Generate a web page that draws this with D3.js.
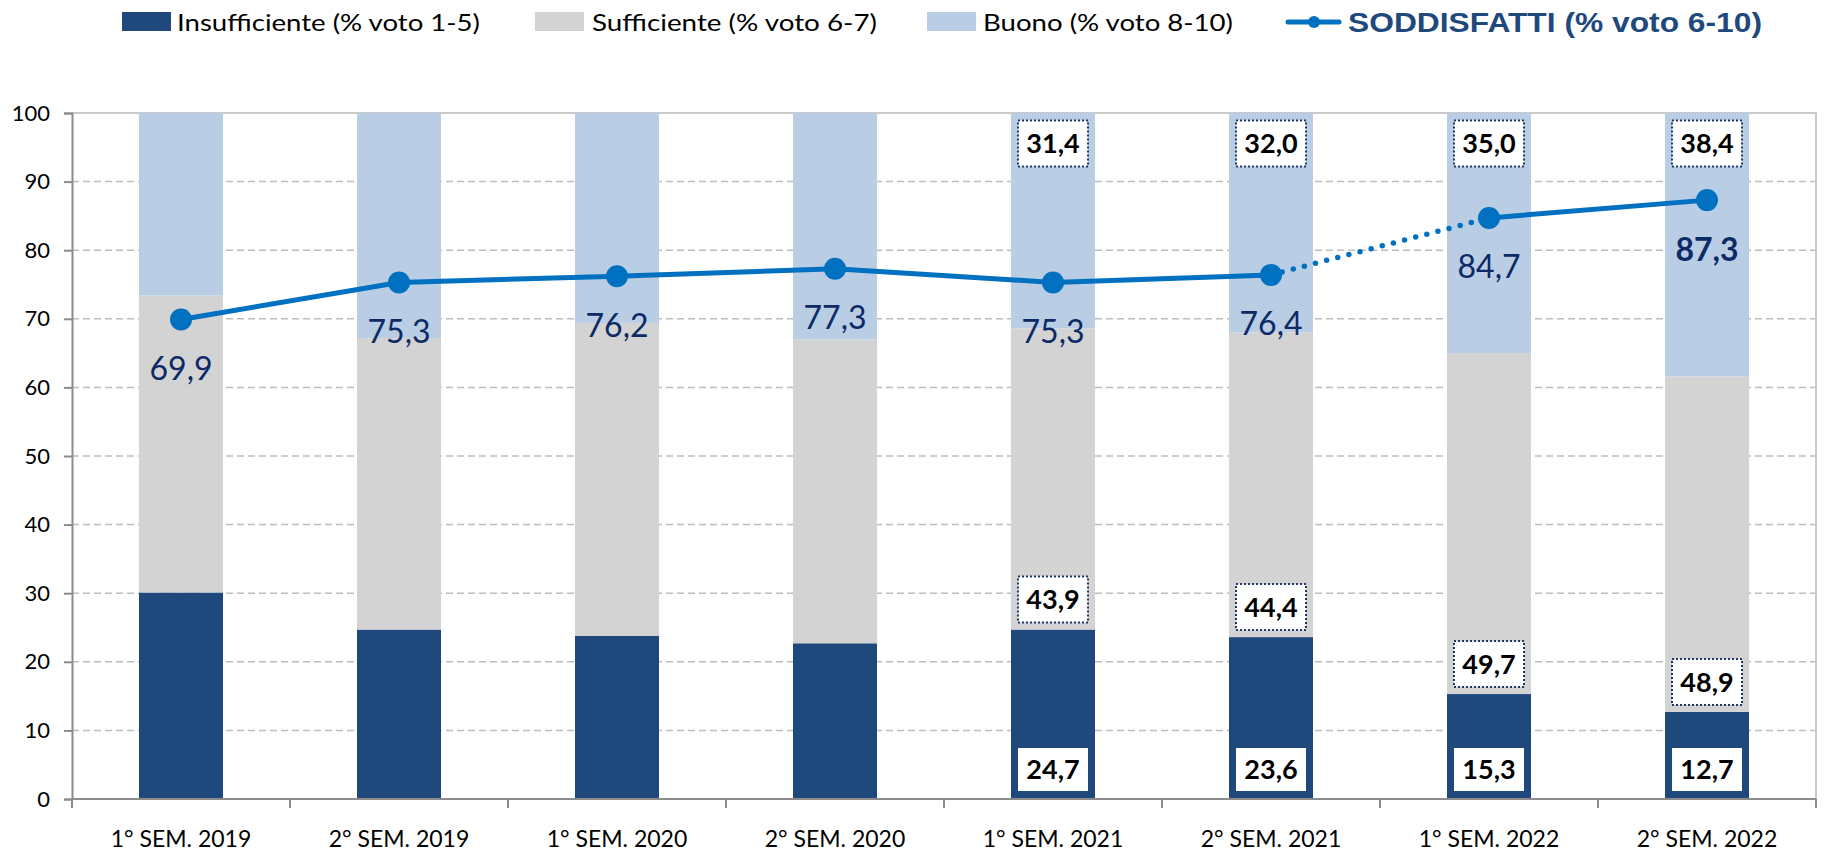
<!DOCTYPE html>
<html><head><meta charset="utf-8">
<script src="https://cdn.jsdelivr.net/npm/d3@7"></script>
<style>body{margin:0;background:#fff;}svg{display:block;}</style>
</head><body>
<svg id="chart" width="1824" height="852"></svg>
<script>
const categories = ["1° SEM. 2019","2° SEM. 2019","1° SEM. 2020","2° SEM. 2020","1° SEM. 2021","2° SEM. 2021","1° SEM. 2022","2° SEM. 2022"];
const insufficiente = [30.1, 24.7, 23.8, 22.7, 24.7, 23.6, 15.3, 12.7];
const sufficiente   = [43.3, 42.5, 45.6, 44.3, 43.9, 44.4, 49.7, 48.9];
const buono         = [26.6, 32.8, 30.6, 33.0, 31.4, 32.0, 35.0, 38.4];
const soddisfatti   = [69.9, 75.3, 76.2, 77.3, 75.3, 76.4, 84.7, 87.3];
const showBarLabels = [false, false, false, false, true, true, true, true];
const segmentStyle  = ["solid","solid","solid","solid","solid","dotted","solid"];
const boldLineLabel = [false, false, false, false, false, false, false, true];
const yTicks = [0,10,20,30,40,50,60,70,80,90,100];
const legendLabels = ["Insufficiente (% voto 1-5)","Sufficiente (% voto 6-7)","Buono (% voto 8-10)","SODDISFATTI (% voto 6-10)"];

const C = {ins:"#1F497D", suf:"#D3D3D3", buo:"#B9CDE5", line:"#0070C0", lab:"#0D2A66"};
const fmt = v => d3.format(".1f")(v).replace(".", ",");
const svg = d3.select("#chart");
const L = 72, R = 1816, T = 113, B = 799;
const x = d3.scaleBand().domain(categories).range([L, R]).paddingInner(1 - 84/218).paddingOuter((1 - 84/218)/2);
const y = d3.scaleLinear().domain([0, 100]).range([B, T]);
const font = "Lato, 'Open Sans', sans-serif";

// gridlines
svg.append("g").selectAll("line").data(yTicks.filter(t => t > 0 && t < 100)).join("line")
  .attr("x1", L).attr("x2", R).attr("y1", d => y(d)).attr("y2", d => y(d))
  .attr("stroke", "#BDBDBD").attr("stroke-width", 1.5).attr("stroke-dasharray", "7,4");
// frame top/right
svg.append("path").attr("d", `M${L},${y(100)}H${R}V${B}`).attr("fill","none").attr("stroke","#CACACA").attr("stroke-width",2);

// stacked bars
const stackData = categories.map((c,i) => ({cat:c, ins:insufficiente[i], suf:sufficiente[i], buo:buono[i]}));
const series = d3.stack().keys(["ins","suf","buo"])(stackData);
const colors = {ins:C.ins, suf:C.suf, buo:C.buo};
svg.append("g").selectAll("g").data(series).join("g").attr("fill", s => colors[s.key])
  .selectAll("rect").data(s => s).join("rect")
  .attr("x", d => x(d.data.cat)).attr("width", x.bandwidth())
  .attr("y", d => y(d[1])).attr("height", d => y(d[0]) - y(d[1]));

// axes
const yAxis = svg.append("g").attr("transform", `translate(${L},0)`)
  .call(d3.axisLeft(y).tickValues(yTicks).tickSize(8).tickPadding(14).tickFormat(d3.format("d")));
yAxis.select(".domain").attr("stroke", "#8C8C8C").attr("stroke-width", 2);
yAxis.selectAll(".tick line").attr("stroke", "#8C8C8C").attr("stroke-width", 2);
yAxis.selectAll("text").attr("font-family", font).attr("font-size", 22).attr("fill", "#000");

const xAxisG = svg.append("g");
xAxisG.append("line").attr("x1", L).attr("x2", R).attr("y1", B).attr("y2", B).attr("stroke", "#8C8C8C").attr("stroke-width", 2);
const boundaries = d3.range(categories.length + 1).map(i => L + i * x.step());
xAxisG.selectAll(".bt").data(boundaries).join("line").attr("class","bt")
  .attr("x1", d => d).attr("x2", d => d).attr("y1", B).attr("y2", B + 9).attr("stroke", "#8C8C8C").attr("stroke-width", 2);
xAxisG.selectAll("text").data(categories).join("text")
  .attr("x", d => x(d) + x.bandwidth()/2).attr("y", 847).attr("text-anchor", "middle")
  .attr("font-family", font).attr("font-size", 23).attr("fill", "#000").text(d => d);

// bar labels
function labelBox(g, cx, cy, txt, dotted) {
  const w = 70, h = dotted ? 46 : 43;
  g.append("rect").attr("x", cx - w/2).attr("y", cy - h/2).attr("width", w).attr("height", h)
    .attr("fill", "#fff").attr("stroke", dotted ? "#1F3864" : "none").attr("stroke-width", 2)
    .attr("stroke-dasharray", dotted ? "2,2" : null);
  g.append("text").attr("x", cx).attr("y", cy).attr("dy", "0.36em").attr("text-anchor", "middle")
    .attr("font-family", font).attr("font-weight", "bold").attr("font-size", 27).attr("fill", "#000").text(txt);
}
const lg = svg.append("g");
categories.forEach((c, i) => {
  if (!showBarLabels[i]) return;
  const cx = x(c) + x.bandwidth()/2;
  labelBox(lg, cx, y(0) - 8 - 21.5, fmt(insufficiente[i]), false);
  labelBox(lg, cx, y(insufficiente[i]) - 7 - 23, fmt(sufficiente[i]), true);
  labelBox(lg, cx, y(100) + 7.5 + 23, fmt(buono[i]), true);
});

// line
const pts = categories.map((c,i) => [x(c) + x.bandwidth()/2, y(soddisfatti[i])]);
const lineGen = d3.line();
const lineG = svg.append("g");
segmentStyle.forEach((s, i) => {
  lineG.append("path").attr("d", lineGen([pts[i], pts[i+1]])).attr("fill", "none")
    .attr("stroke", C.line).attr("stroke-width", s === "dotted" ? 5.5 : 5)
    .attr("stroke-linecap", "round")
    .attr("stroke-dasharray", s === "dotted" ? "0,11.5" : null);
});
lineG.selectAll("circle").data(pts).join("circle").attr("cx", d => d[0]).attr("cy", d => d[1]).attr("r", 11).attr("fill", C.line);
lineG.selectAll("text").data(pts).join("text")
  .attr("x", d => d[0]).attr("y", d => d[1] + 49).attr("dy", "0.36em").attr("text-anchor", "middle")
  .attr("font-family", font).attr("font-size", 32).attr("fill", C.lab)
  .attr("font-weight", (d,i) => boldLineLabel[i] ? "bold" : "normal")
  .text((d,i) => fmt(soddisfatti[i]));

// legend
const leg = svg.append("g");
const swatches = [[122, C.ins, 177, 303], [535, C.suf, 592, 285], [927, C.buo, 983, 250]];
swatches.forEach((s, i) => {
  leg.append("rect").attr("x", s[0]).attr("y", 12).attr("width", 49).attr("height", 19).attr("fill", s[1]);
  leg.append("text").attr("x", s[2]).attr("y", 31).attr("font-family", font).attr("font-size", 24)
    .attr("textLength", s[3]).attr("lengthAdjust", "spacingAndGlyphs").attr("fill", "#000").text(legendLabels[i]);
});
leg.append("line").attr("x1", 1288).attr("x2", 1339).attr("y1", 22).attr("y2", 22).attr("stroke", C.line).attr("stroke-width", 5).attr("stroke-linecap", "round");
leg.append("circle").attr("cx", 1314).attr("cy", 22).attr("r", 6).attr("fill", C.line);
leg.append("text").attr("x", 1348).attr("y", 32).attr("font-family", "'Liberation Sans', Arial, sans-serif")
  .attr("font-weight", "bold").attr("font-size", 28).attr("textLength", 414).attr("lengthAdjust", "spacingAndGlyphs")
  .attr("fill", C.ins).text(legendLabels[3]);
</script>
</body></html>
